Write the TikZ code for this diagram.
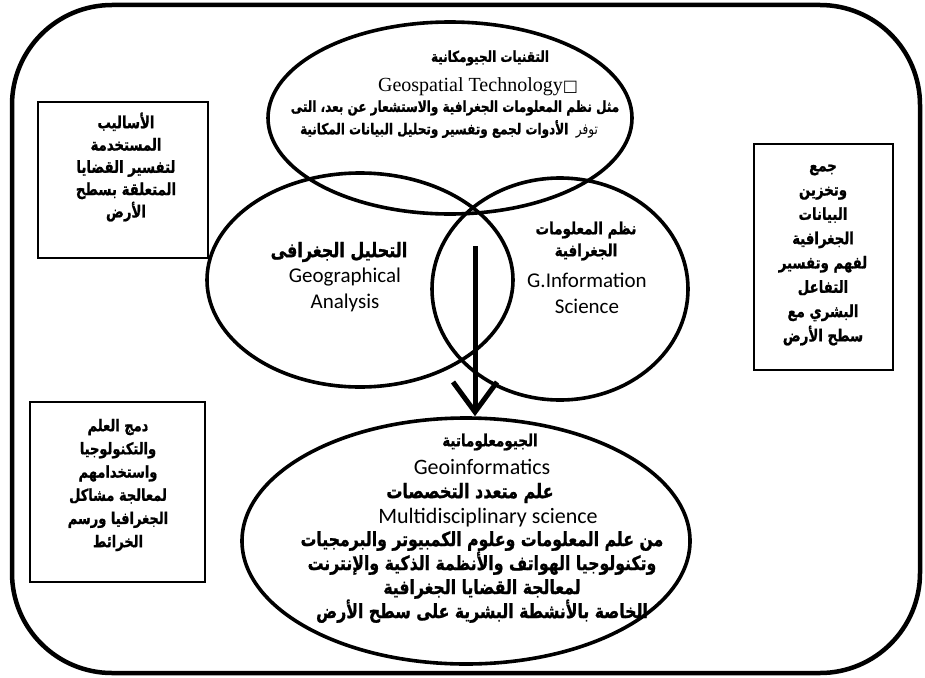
\documentclass[tikz,border=0pt]{standalone}
\usepackage{fontspec}
\usepackage{graphicx}
\usetikzlibrary{arrows.meta,shapes.geometric}
\TeXXeTstate=1
\newfontfamily\arabicfont[Script=Arabic, BoldFeatures={FakeBold=1.2}]{DejaVu Sans}
\newfontfamily\calibf{Carlito}
\newfontfamily\timesf{Liberation Serif}
\newfontfamily\symf{DejaVu Sans}
\newcommand\artext[1]{\scalebox{1}[1.25]{\arabicfont\bfseries\beginR #1\endR}}
\tikzset{
  oval/.style={draw, ellipse, line width=3.6pt, inner sep=0pt},
  framebox/.style={draw, line width=1.5pt, inner sep=0pt},
  artxt/.style={align=center, inner sep=0pt, font=\fontsize{13.5}{23}\selectfont},
  toptxt/.style={align=center, inner sep=0pt, font=\fontsize{12}{20}\selectfont},
  latxt/.style={align=center, inner sep=0pt, font=\calibf\fontsize{21}{26}\selectfont},
  bigarrow/.style={line width=5pt, -{Straight Barb[length=30pt,width=44pt]}}
}
\begin{document}
\begin{tikzpicture}[x=1pt,y=-1pt]
\useasboundingbox (0,0) rectangle (925,677);
% outer frame
\draw[line width=4.5pt, rounded corners=100pt] (12,5) rectangle (920,673);
% ellipses
\node[oval, minimum width=364pt, minimum height=192pt] (top) at (450,118) {};
\node[oval, minimum width=306pt, minimum height=214pt] (left) at (360,280) {};
\node[oval, minimum width=256pt, minimum height=222pt] (right) at (560,289) {};
\node[oval, minimum width=448pt, minimum height=246pt] (bot) at (466,541) {};
% top ellipse text
\node[toptxt] (t1) at (490,58) {\artext{التقنيات الجيومكانية}};
\node[inner sep=0pt, font=\timesf\fontsize{20}{22}\selectfont] (t2) at (478,87) {Geospatial Technology{\symf\fontsize{16}{18}\selectfont □}};
\node[toptxt] (t3) at (455,108) {\artext{مثل نظم المعلومات الجغرافية والاستشعار عن بعد، التى}};
\node[toptxt] (t4) at (449,129) {\scalebox{1}[1.25]{\arabicfont\beginR توفر\ \ {\bfseries الأدوات لجمع وتفسير وتحليل البيانات المكانية}\endR}};
% left ellipse text
\node[artxt, font=\fontsize{16}{23}\selectfont] (l1) at (339,252) {\artext{التحليل الجغرافى}};
\node[latxt] (l2) at (345,290) {Geographical\\Analysis};
% right ellipse text
\node[artxt, font=\fontsize{13.5}{22}\selectfont] (r1) at (586,241) {\artext{نظم المعلومات}\\\artext{الجغرافية}};
\node[latxt] (r2) at (587,293) {G.Information\\Science};
% bottom ellipse text
\node[artxt, font=\fontsize{13.5}{20}\selectfont] (b1) at (490,442) {\artext{الجيومعلوماتية}};
\node[latxt, font=\calibf\fontsize{22}{26}\selectfont] (b2) at (482,467) {Geoinformatics};
\node[artxt, font=\fontsize{16}{23}\selectfont] (b3) at (470,493) {\artext{علم متعدد التخصصات}};
\node[latxt, font=\calibf\fontsize{22}{26}\selectfont] (b4) at (488,518) {Multidisciplinary science};
\node[artxt, font=\fontsize{15.7}{24}\selectfont] (b5) at (482,577) {\artext{من علم المعلومات وعلوم الكمبيوتر والبرمجيات}\\\artext{وتكنولوجيا الهواتف والأنظمة الذكية والإنترنت}\\\artext{لمعالجة القضايا الجغرافية}\\\artext{الخاصة بالأنشطة البشرية على سطح الأرض}};
% arrow
\coordinate (as) at (475,246);
\draw[bigarrow] (as) -- (as |- bot.north);
% side boxes
\node[framebox, minimum width=170pt, minimum height=156pt] (bx1) at (123,180) {};
\node[artxt, font=\fontsize{13.3}{22.3}\selectfont] (bx1t) at (126,167) {\artext{الأساليب}\\\artext{المستخدمة}\\\artext{لتفسير القضايا}\\\artext{المتعلقة بسطح}\\\artext{الأرض}};
\node[framebox, minimum width=139pt, minimum height=226pt] (bx2) at (823.5,257) {};
\node[artxt, font=\fontsize{13.3}{24.3}\selectfont] (bx2t) at (823,255) {\artext{جمع}\\\artext{وتخزين}\\\artext{البيانات}\\\artext{الجغرافية}\\\artext{لفهم وتفسير}\\\artext{التفاعل}\\\artext{البشري مع}\\\artext{سطح الأرض}};
\node[framebox, minimum width=175pt, minimum height=180pt] (bx3) at (117.5,492) {};
\node[artxt, font=\fontsize{13}{23.2}\selectfont] (bx3t) at (118,485) {\artext{دمج العلم}\\\artext{والتكنولوجيا}\\\artext{واستخدامهم}\\\artext{لمعالجة مشاكل}\\\artext{الجغرافيا ورسم}\\\artext{الخرائط}};
\end{tikzpicture}
\end{document}
